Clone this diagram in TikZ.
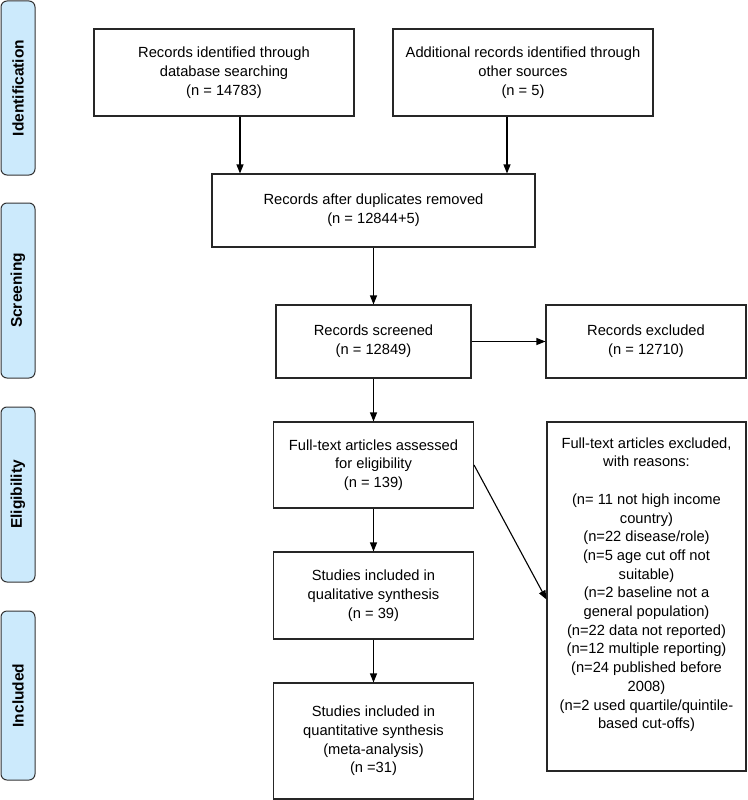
\documentclass[tikz,border=0pt]{standalone}
\usepackage{fontspec}
\setmainfont{Liberation Sans}
\usetikzlibrary{arrows.meta}
\definecolor{phaseblue}{RGB}{204,234,252}

\begin{document}
\begin{tikzpicture}[x=1pt,y=-1pt,->,>={Triangle[length=9pt,width=7pt]}]
   \useasboundingbox (0,0) rectangle (747,800);
   \fontsize{14.7}{18.7}\selectfont
   \tikzstyle{box}=[draw=black!85, line width=1.1pt, align=center, inner sep=2pt]
   \tikzstyle{phase}=[draw=black!80, fill=phaseblue, line width=1pt, rounded corners=6pt, rotate=90, minimum height=34pt, font=\bfseries\fontsize{15.5}{18}\selectfont]
   \foreach \name/\word/\top/\bot in {ident/Identification/1/175, screen/Screening/203/378, elig/Eligibility/407/582, incl/Included/611/780} {
       \node[phase, minimum width={(\bot-\top)*1pt}] (\name) at (18,{(\top+\bot)/2}) {\word};
   }
   \node[box, minimum width=260, minimum height=87] (rec) at (224,72.5) {Records identified through\\database searching\\(n = 14783)};
   \node[box, minimum width=260, minimum height=87] (other) at (523,72.5) {Additional records identified through\\other sources\\(n = 5)};
   \node[box, minimum width=323, minimum height=73] (dup) at (373.5,210.5) {Records after duplicates removed\\(n = 12844+5)};
   \node[box, minimum width=195, minimum height=73] (screened) at (373.5,341.5) {Records screened\\(n = 12849)};
   \node[box, minimum width=200, minimum height=73] (excl) at (646,341.5) {Records excluded\\(n = 12710)};
   \node[box, minimum width=200, minimum height=86] (fulltext) at (373.5,465) {Full-text articles assessed\\for eligibility\\(n = 139)};
   \node[box, minimum width=199, minimum height=349] (ftexcl) at (646.5,596.5) {Full-text articles excluded,\\with reasons:\\[18.7pt](n= 11 not high income\\country)\\(n=22 disease/role)\\(n=5 age cut off not\\suitable)\\(n=2 baseline not a\\general population)\\(n=22 data not reported)\\(n=12 multiple reporting)\\(n=24 published before\\2008)\\(n=2 used quartile/quintile-\\based cut-offs)\\[8pt]};
   \node[box, minimum width=200, minimum height=87] (qual) at (373.5,595.5) {Studies included in\\qualitative synthesis\\(n = 39)};
   \node[box, minimum width=200, minimum height=116] (quant) at (373.5,741) {Studies included in\\quantitative synthesis\\(meta-analysis)\\(n =31)};
   \path[draw, line width=1.1pt] ([xshift=16]rec.south) -- ([xshift=16]rec.south |- dup.north);
   \path[draw, line width=1.1pt] ([xshift=-16]other.south) -- ([xshift=-16]other.south |- dup.north);
   \path[draw, line width=1.1pt] (dup) -- (screened);
   \path[draw, line width=1.1pt] (screened) -- (excl);
   \path[draw, line width=1.1pt] (screened) -- (fulltext);
   \path[draw, line width=1.1pt] (fulltext) -- (qual);
   \path[draw, line width=1.1pt] (qual) -- (quant);
   \path[draw, line width=1.1pt] (fulltext.east) -- ([yshift=-3]ftexcl.west);
\end{tikzpicture}
\end{document}
